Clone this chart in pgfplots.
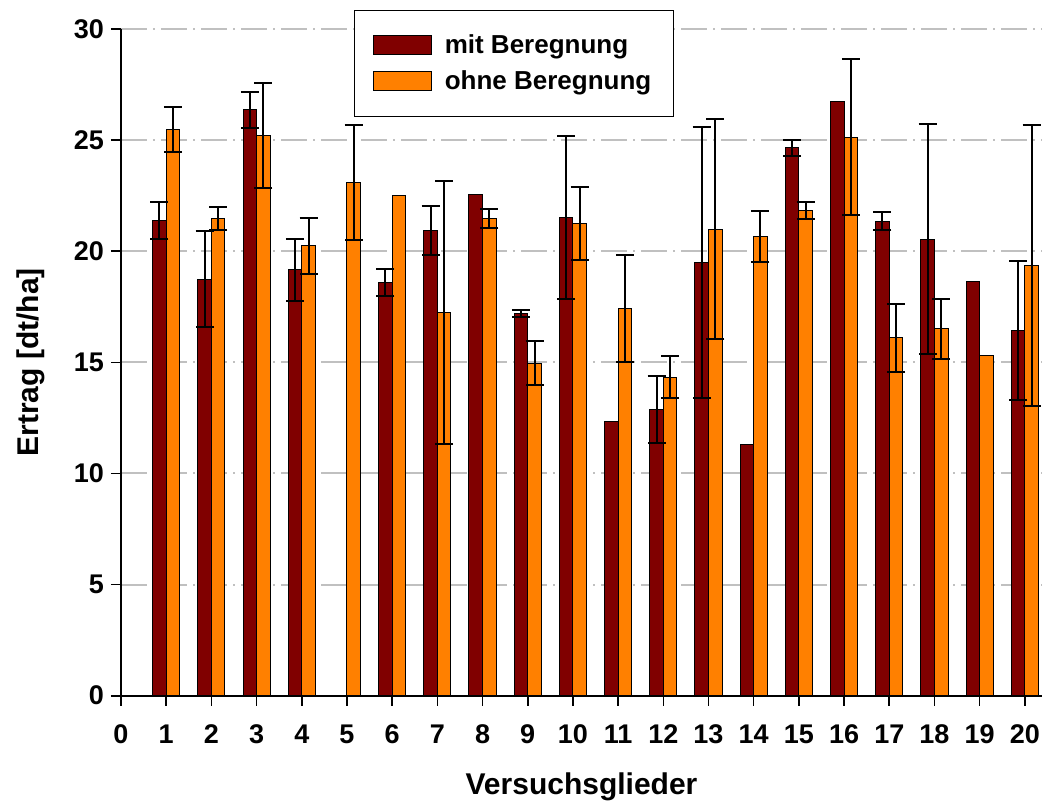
\documentclass[border=0pt]{standalone}
\usepackage{pgfplots}
\pgfplotsset{compat=1.18}
\usepackage{pgfplotstable}
\usepackage{fontspec}
\setmainfont{Liberation Sans}
\definecolor{mitcol}{RGB}{128,0,0}
\definecolor{ohnecol}{RGB}{255,128,0}
\definecolor{gridcol}{RGB}{192,192,192}
\pgfplotsset{mybarlegend/.style={legend image code/.code={\draw[##1] (0pt,-4.75pt) rectangle (29pt,4.75pt);}}}

\pgfplotstableread{
x y
1 21.40
2 18.74
3 26.37
4 19.16
6 18.60
7 20.93
8 22.55
9 17.18
10 21.53
11 12.36
12 12.89
13 19.50
14 11.30
15 24.66
16 26.75
17 21.36
18 20.55
19 18.66
20 16.43
}\mitbars

\pgfplotstableread{
x y e
1 21.40 0.83
2 18.74 2.17
3 26.37 0.81
4 19.16 1.39
6 18.60 0.60
7 20.93 1.12
9 17.18 0.16
10 21.53 3.66
12 12.89 1.50
13 19.50 6.09
15 24.66 0.36
17 21.36 0.40
18 20.55 5.19
20 16.43 3.13
}\miterr

\pgfplotstableread{
x y
1 25.47
2 21.48
3 25.20
4 20.24
5 23.10
6 22.53
7 17.24
8 21.47
9 14.96
10 21.24
11 17.43
12 14.34
13 20.99
14 20.66
15 21.83
16 25.13
17 16.10
18 16.52
19 15.29
20 19.35
}\ohnebars

\pgfplotstableread{
x y e
1 25.47 1.02
2 21.48 0.51
3 25.20 2.36
4 20.24 1.27
5 23.10 2.60
7 17.24 5.91
8 21.47 0.42
9 14.96 0.98
10 21.24 1.63
11 17.43 2.40
12 14.34 0.95
13 20.99 4.95
14 20.66 1.13
15 21.83 0.39
16 25.13 3.52
17 16.10 1.52
18 16.52 1.35
20 19.35 6.31
}\ohneerr

\begin{document}
\begin{tikzpicture}
\begin{axis}[
  at={(0,0)}, anchor=south west,
  scale only axis, width=460.5pt, height=333.35pt,
  xmin=0, xmax=20.38, ymin=0, ymax=30,
  axis x line=bottom, axis y line=left,
  axis line style={-, line width=1pt, black},
  clip=false,
  xtick={0,...,20}, ytick={0,5,...,30},
  tick align=outside, major tick length=5pt,
  tick style={black, line width=0.8pt},
  /pgf/number format/assume math mode=true,
  tick label style={font=\fontsize{13.5}{16}\selectfont\bfseries},
  xticklabel style={yshift=-6pt},
  ymajorgrids,
  major grid style={draw=gridcol, line width=1pt, dash pattern=on 13pt off 3pt on 1pt off 3pt},
  xlabel={Versuchsglieder},
  ylabel={Ertrag [dt/ha]},
  label style={font=\fontsize{15}{18}\selectfont\bfseries},
  xlabel style={at={(axis description cs:0.5,-0.1489)}, anchor=base},
  ylabel style={at={(axis description cs:-0.0901,0.5)}, anchor=base},
  legend style={at={(0.2533,1.0285)}, anchor=north west, draw=black, line width=0.5pt,
    font=\fontsize{13}{15}\selectfont\bfseries, inner xsep=9pt, inner ysep=10pt,
    row sep=3pt, cells={anchor=west},
    /tikz/every odd column/.append style={column sep=4.5pt}},
]
\addplot[ybar, bar width=0.3, bar shift=-0.15, fill=mitcol, draw=black, line width=0.5pt, mybarlegend]
  table[x=x, y=y] {\mitbars};
\addlegendentry{mit Beregnung}
\addplot[ybar, bar width=0.3, bar shift=0.15, fill=ohnecol, draw=black, line width=0.5pt, mybarlegend]
  table[x=x, y=y] {\ohnebars};
\addlegendentry{ohne Beregnung}
\addplot[draw=none, mark=none, forget plot,
  error bars/.cd, y dir=both, y explicit,
  error bar style={draw=black, line width=1pt},
  error mark options={rotate=90, draw=black, line width=1pt, mark size=4.5pt}]
  table[x expr=\thisrow{x}-0.15, y=y, y error=e] {\miterr};
\addplot[draw=none, mark=none, forget plot,
  error bars/.cd, y dir=both, y explicit,
  error bar style={draw=black, line width=1pt},
  error mark options={rotate=90, draw=black, line width=1pt, mark size=4.5pt}]
  table[x expr=\thisrow{x}+0.15, y=y, y error=e] {\ohneerr};
\end{axis}
\pgfresetboundingbox
\path (-60.5pt,-55.65pt) rectangle (460.5pt,347.85pt);
\end{tikzpicture}
\end{document}
